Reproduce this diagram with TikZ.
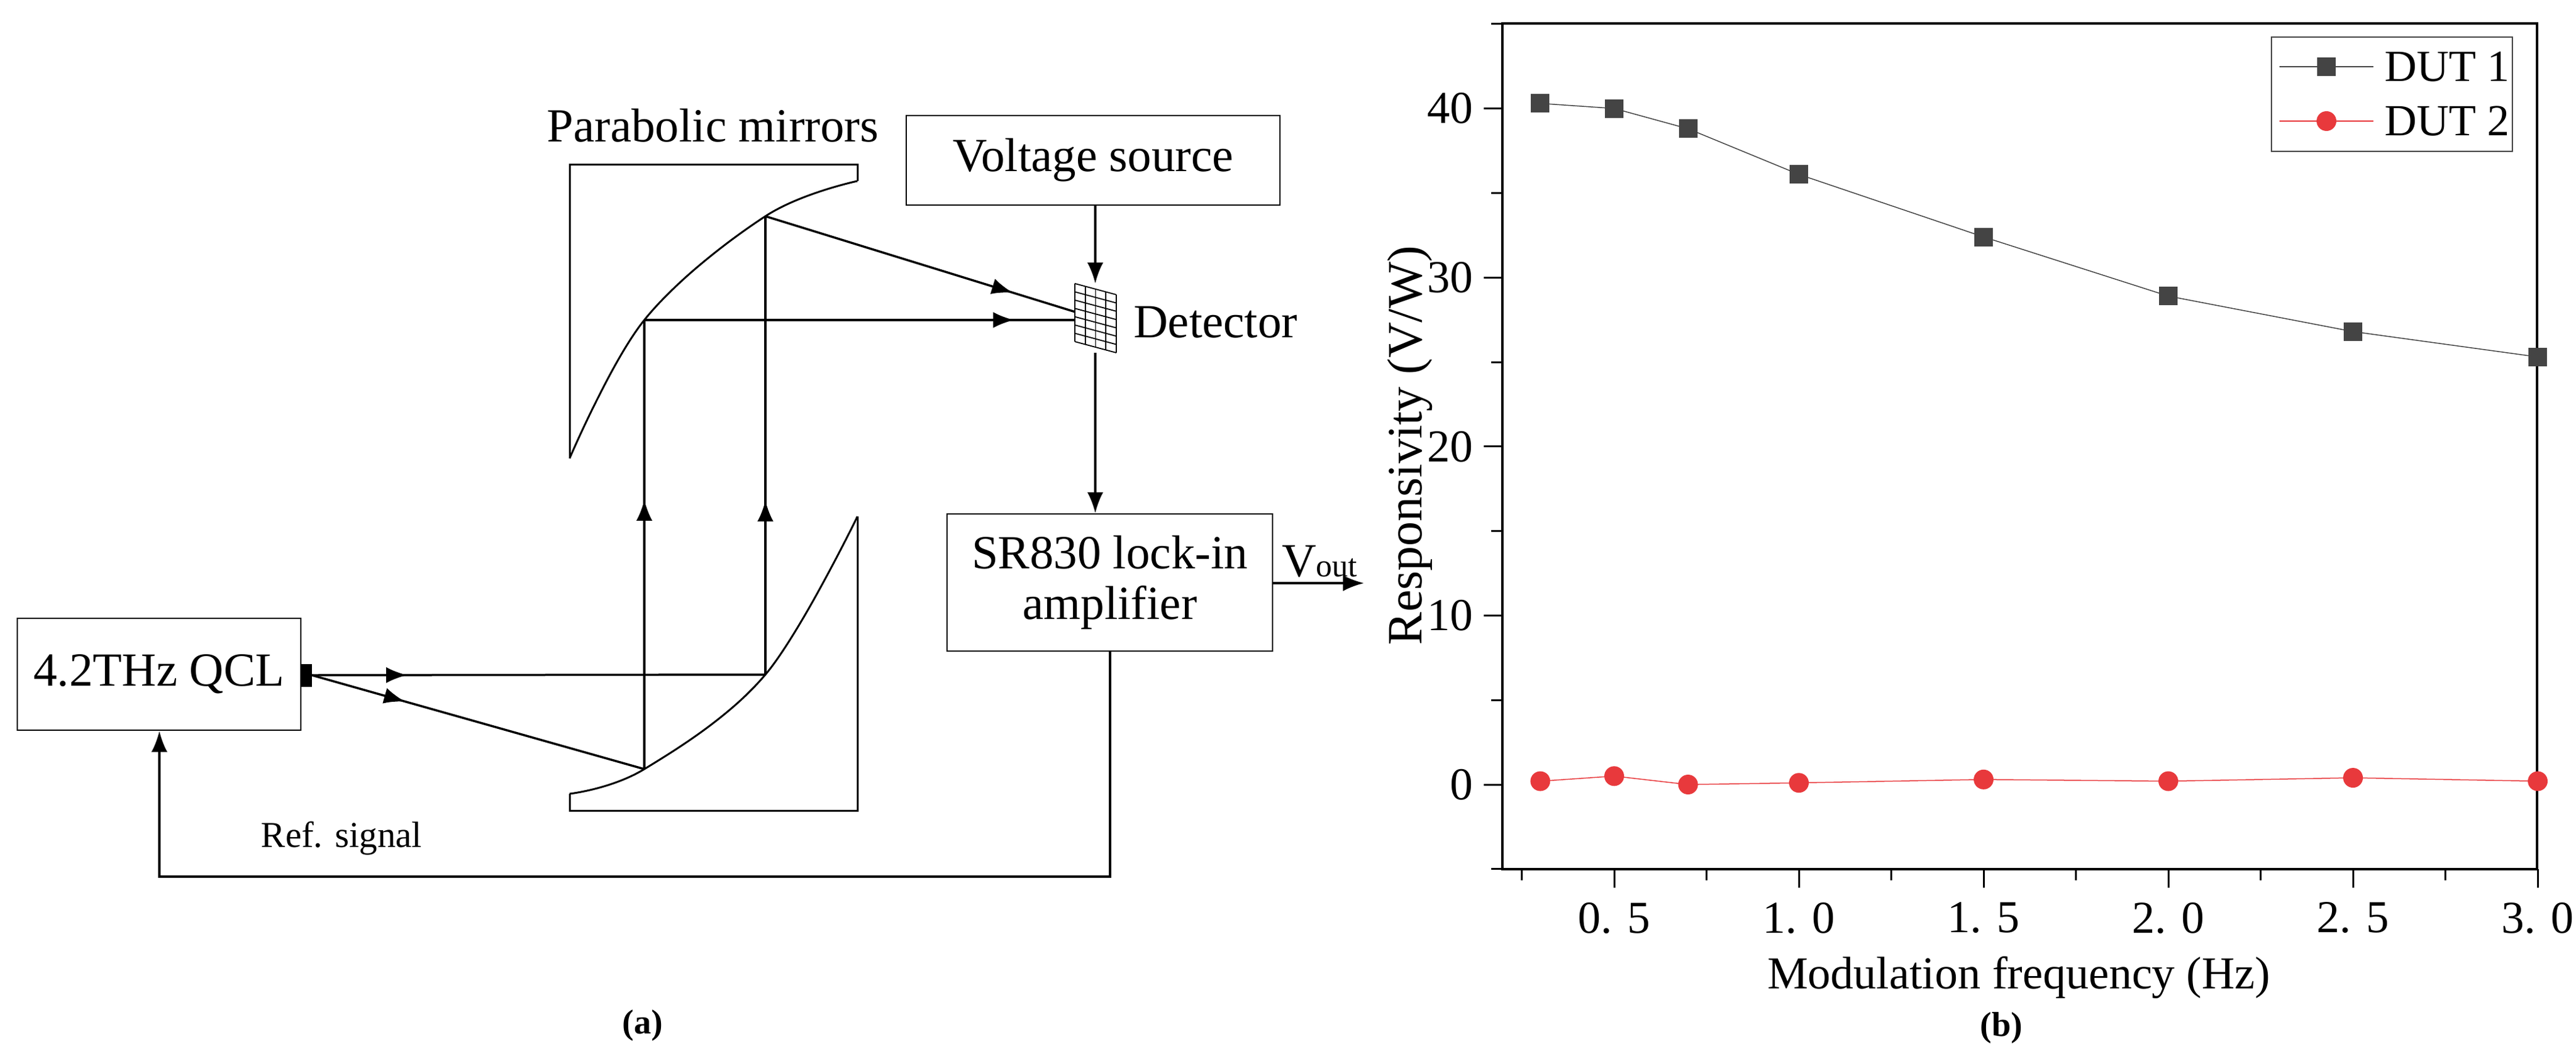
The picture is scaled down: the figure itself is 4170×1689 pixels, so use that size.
\documentclass[tikz,border=0pt]{standalone}
\usepackage{fontspec}
\setmainfont{Liberation Serif}
\usetikzlibrary{arrows.meta,decorations.markings}
\definecolor{dgray}{HTML}{444444}
\definecolor{dred}{HTML}{E8393C}
\begin{document}
\begin{tikzpicture}[x=1pt,y=-1pt,
  box/.style={draw,line width=2.5pt,inner sep=0pt,font=\fontsize{77}{84}\selectfont,align=center},
  lbl/.style={inner sep=0pt,font=\fontsize{77}{84}\selectfont},
  ln/.style={line width=3.5pt},
  tip/.style={-{Latex[length=34pt,width=26pt]}},
  mid/.style={postaction={decorate},decoration={markings,mark=at position #1 with {\arrow{Latex[length=34pt,width=26pt]}}}},
  tick/.style={font=\fontsize{74}{80}\selectfont,inner sep=0pt},
  sq/.style={fill=dgray,draw=none,minimum size=30pt,inner sep=0pt},
  dot/.style={fill=dred,circle,draw=none,minimum size=32pt,inner sep=0pt}]
\useasboundingbox (0,0) rectangle (4170,1689);
\fill[white] (0,0) rectangle (4170,1689);
% ---------- (a) ----------
\node[box,minimum width=459pt,minimum height=181pt] (qcl) at (257.5,1091.5) {4.2THz QCL};
\fill (487,1075) rectangle (505,1112);
\coordinate (em) at (505,1093);
\node[box,minimum width=605pt,minimum height=145pt] (vs) at (1769.5,259.5) {Voltage source};
\node[box,minimum width=527pt,minimum height=222pt] (amp) at (1796.5,943) {SR830 lock-in\\[-2pt]amplifier};
\node[lbl] (pm) at (1154,203) {Parabolic mirrors};
\node[lbl,anchor=west] (dl) at (1835,522) {Detector};
\node[lbl,font=\fontsize{59}{64}\selectfont] (ref) at (553,1357) {Ref. signal};
\node[lbl,anchor=south west] (vo) at (2075,935) {V\fontsize{52}{60}\selectfont out};
\node[lbl,font=\bfseries\fontsize{56}{60}\selectfont] (la) at (1040,1660) {(a)};
% mirrors
\draw[line width=3pt] (922,742) -- (922,266) -- (1388,266) -- (1388,293);
\draw[line width=3pt] plot[smooth,tension=0.6] coordinates {(922,742) (1043,518) (1239,350) (1388,293)};
\draw[line width=3pt] (1388,836) -- (1388,1312) -- (922,1312) -- (922,1285);
\draw[line width=3pt] plot[smooth,tension=0.6] coordinates {(922,1285) (1043,1245) (1239,1092) (1388,836)};
\coordinate (u1) at (1043,518);
\coordinate (u2) at (1239,350);
\coordinate (l1) at (1043,1245);
\coordinate (l2) at (1239,1092);
\coordinate (det) at (1773,515);
\coordinate (deth) at (1773,518);
% beams
\draw[ln,mid=0.21] (em) -- (l2);
\draw[ln,mid=0.28] (em) -- (l1);
\draw[ln,mid=0.6] (l1) -- (u1);
\draw[ln,mid=0.38] (l2) -- (u2);
\draw[ln,mid=0.75] (u2) -- (det);
\draw[ln,mid=0.82] (u1) -- (deth);
% detector grid
\fill[white] (1740,459) -- (1807,477) -- (1807,571) -- (1740,553) -- cycle;
\foreach \i in {0,...,4}{\draw[line width=1.8pt] ({1740+67*\i/4},{459+18*\i/4}) -- ++(0,94);}
\foreach \j in {0,...,7}{\draw[line width=1.8pt] (1740,{459+94*\j/7}) -- (1807,{477+94*\j/7});}
\coordinate (dtop) at (1773,459);
\coordinate (dbot) at (1773,571);
\draw[ln,tip] (vs.south -| dtop) -- (dtop);
\draw[ln,tip] (dbot) -- (dbot |- amp.north);
\coordinate (vend) at (2208,944);
\draw[ln,tip] (amp.east |- vend) -- (vend);
\coordinate (r1) at (1797,1419);
\coordinate (r2) at (258,1419);
\draw[ln,tip] (amp.south -| r1) -- (r1) -- (r2) -- (r2 |- qcl.south);
% ---------- (b) ----------
\draw[line width=3.5pt] (2432,38) rectangle (4107,1407);
\foreach \v in {0.25,0.5,...,3.0}{\draw[line width=3pt] ({2613+598*(\v-0.5)},1407) -- ++(0,18);}
\foreach \v in {0.5,1.0,1.5,2.0,2.5,3.0}{\draw[line width=3pt] ({2613+598*(\v-0.5)},1407) -- ++(0,30);}
\foreach \v/\t in {0.5/0. 5,1.0/1. 0,1.5/1. 5,2.0/2. 0,2.5/2. 5,3.0/3. 0}{\node[tick] at ({2613+598*(\v-0.5)},1486) {\t};}
\foreach \v in {-5,0,...,45}{\draw[line width=3pt] (2432,{1270-27.36*\v}) -- ++(-18,0);}
\foreach \v in {0,10,...,40}{\draw[line width=3pt] (2432,{1270-27.36*\v}) -- ++(-30,0);
  \node[tick,anchor=east] at (2385,{1270-27.36*\v}) {\v};}
\node[lbl,font=\fontsize{80}{90}\selectfont,rotate=90] (yl) at (2282,721) {Responsivity (V/W)};
\node[lbl,font=\fontsize{74}{80}\selectfont] (xl) at (3268,1582) {Modulation frequency (Hz)};
\node[lbl,font=\bfseries\fontsize{56}{60}\selectfont] (lb) at (3240,1664) {(b)};
% data
\draw[dgray,line width=1.5pt] plot coordinates {({2613+598*(-0.2)},{1270-27.36*40.3}) (2613,{1270-27.36*40.0}) ({2613+598*0.2},{1270-27.36*38.8}) ({2613+598*0.5},{1270-27.36*36.1}) ({2613+598*1.0},{1270-27.36*32.4}) ({2613+598*1.5},{1270-27.36*28.9}) ({2613+598*2.0},{1270-27.36*26.8}) ({2613+598*2.5},{1270-27.36*25.3})};
\draw[dred,line width=1.5pt] plot coordinates {({2613+598*(-0.2)},{1270-27.36*0.2}) (2613,{1270-27.36*0.5}) ({2613+598*0.2},{1270-27.36*0.0}) ({2613+598*0.5},{1270-27.36*0.1}) ({2613+598*1.0},{1270-27.36*0.3}) ({2613+598*1.5},{1270-27.36*0.2}) ({2613+598*2.0},{1270-27.36*0.4}) ({2613+598*2.5},{1270-27.36*0.2})};
\foreach \a/\b in {0.3/40.3,0.5/40.0,0.7/38.8,1.0/36.1,1.5/32.4,2.0/28.9,2.5/26.8,3.0/25.3}{\node[sq] at ({2613+598*(\a-0.5)},{1270-27.36*\b}) {};}
\foreach \a/\b in {0.3/0.2,0.5/0.5,0.7/0.0,1.0/0.1,1.5/0.3,2.0/0.2,2.5/0.4,3.0/0.2}{\node[dot] at ({2613+598*(\a-0.5)},{1270-27.36*\b}) {};}
% legend
\draw[line width=2pt,draw=dgray] (3677,60) rectangle (4067,245);
\draw[dgray,line width=1.5pt] (3690,108) -- (3842,108);
\node[sq] at (3766,108) {};
\node[lbl,anchor=west,font=\fontsize{72}{80}\selectfont] at (3860,108) {DUT 1};
\draw[dred,line width=1.5pt] (3690,196) -- (3842,196);
\node[dot] at (3766,196) {};
\node[lbl,anchor=west,font=\fontsize{72}{80}\selectfont] at (3860,196) {DUT 2};
\end{tikzpicture}
\end{document}
